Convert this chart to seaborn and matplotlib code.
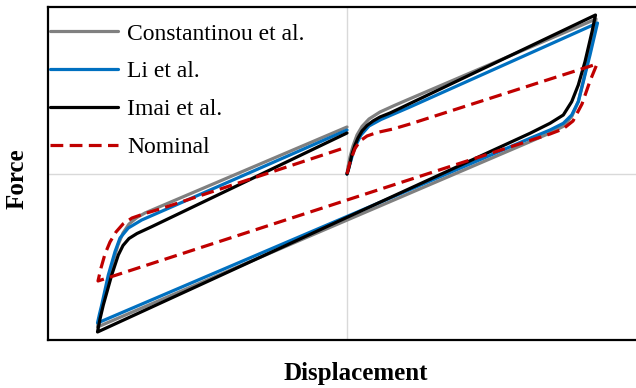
import matplotlib
matplotlib.use("Agg")
import matplotlib.pyplot as plt
import seaborn as sns
import pandas as pd

# Data (arbitrary units; displacement, force)
const_disp = [0, 1, 3, 6, 10, 15, 22, 33, 48, 60, 249, 243, 236.5, 231.5, 225, 217, 203, 183,
              -249.5, -247, -243, -238, -233.5, -229, -224, -218, -210, -202, 0]
const_force = [-0.5, 6.5, 16.5, 27.5, 38.5, 47, 54.5, 61.5, 68.3, 73.5, 154.5, 123.5, 93.5, 72.5, 57.5, 47.5, 40.5, 31.8,
               -153.5, -141.5, -124.5, -104.5, -86.5, -71.5, -59.5, -50.5, -44, -39.5, 46.5]

li_disp = [0, 1.5, 3.5, 6, 9, 14, 22, 34, 50, 63, 250.5, 246.5, 243, 236.3, 231.3, 224.7, 216.3, 203, 183,
           -249.5, -247.5, -245.3, -238.7, -232, -227, -218.7, -205.3, 0]
li_force = [-0.5, 4.5, 11.5, 20.5, 28.5, 38.5, 47.5, 54, 60.9, 66.5, 150.5, 133.5, 118.5, 91.8, 71.8, 58.5, 50.2, 43.5, 35.2,
            -149.5, -140.5, -131.5, -101.5, -78.2, -64.5, -54.5, -46.5, 43.5]

imai_disp = [0, 1.3, 3, 5, 8, 11, 15, 20, 26, 33, 43, 53, 63, 248.5, 245, 238, 231.3, 224.7, 216.3, 203, 183,
             -249.5, -247, -243.7, -235.3, -228.7, -224, -218, -210, -195.3, 0]
imai_force = [-0.5, 3.5, 10.5, 19.5, 28.5, 35.5, 42.5, 48, 52.5, 56.5, 60.5, 65.2, 70, 158.5, 141.8, 111.8, 88.5, 71.8, 58.5, 50.2, 40.2,
              -158.5, -145.5, -131.5, -101.5, -81.5, -72, -65, -60, -53.2, 40.5]

nom_disp = [0, 3, 8, 13, 20, 30, 46, 63, 250, 243, 235, 226, 216, 203,
            -249, -246, -242, -237, -231, -224, -215, -202, -187, 0]
nom_force = [-0.5, 11.5, 25, 32.5, 37.5, 41, 44.5, 49.5, 109.5, 92.5, 69.5, 52.5, 44.5, 39.5,
             -107.5, -94.5, -80.5, -68.5, -58.5, -50.5, -44.5, -40, -35.5, 26.5]

labels = ["Constantinou et al.", "Li et al.", "Imai et al.", "Nominal"]
colors = ["#808080", "#0070C0", "#000000", "#C00000"]

series = [(const_disp, const_force), (li_disp, li_force), (imai_disp, imai_force), (nom_disp, nom_force)]

sns.set_style("white")
plt.rcParams["font.family"] = ["Liberation Serif", "DejaVu Serif"]
plt.rcParams["text.color"] = "black"

fig = plt.figure(figsize=(6.36, 3.88), dpi=100)
ax = fig.add_axes([48 / 636, 1 - 340 / 388, (646 - 48) / 636, (340 - 7) / 388])

ax.axvline(0, color="#d9d9d9", lw=1.0, zorder=0)
ax.axhline(0, color="#d9d9d9", lw=1.0, zorder=0)

for (d, f), lab, col in zip(series, labels, colors):
    df = pd.DataFrame({"disp": d, "force": f})
    ls = (0, (4, 2.0)) if lab == "Nominal" else "-"
    sns.lineplot(data=df, x="disp", y="force", sort=False, estimator=None, ax=ax,
                 color=col, lw=2.3, linestyle=ls, label=lab)

ax.set_xlim(-299, 299)
ax.set_ylim(-166.5, 166.5)
ax.set_xticks([])
ax.set_yticks([])
ax.set_xlabel("")
ax.set_ylabel("")
for s in ax.spines.values():
    s.set_color("black")
    s.set_linewidth(1.6)

leg = ax.legend(loc="upper left", bbox_to_anchor=(50 / 636, 1 - 23 / 388), bbox_transform=fig.transFigure,
                frameon=False, fontsize=17, handlelength=2.9, handletextpad=0.38,
                labelspacing=0.69, borderpad=0, borderaxespad=0)
for t in leg.get_texts():
    t.set_color("black")

fig.text(356 / 636, 1 - 380 / 388, "Displacement", ha="center", va="baseline",
         fontsize=18, fontweight="bold", color="black")
fig.text(17 / 636, 1 - 179 / 388, "Force", ha="center", va="center", rotation=90,
         fontsize=18, fontweight="bold", color="black")

fig.savefig("out.png", dpi=100)
